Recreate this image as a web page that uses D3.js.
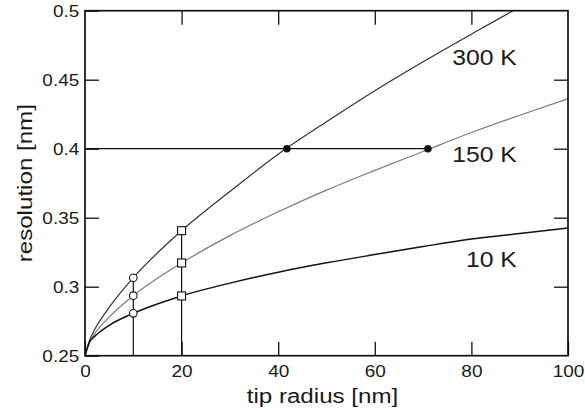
<!DOCTYPE html>
<html>
<head>
<meta charset="utf-8">
<script src="https://cdn.jsdelivr.net/npm/d3@7"></script>
<style>
  html, body { margin: 0; padding: 0; background: #fff; }
  svg text { font-family: "Liberation Sans", Arial, Helvetica, sans-serif; fill: #1a1a1a; }
</style>
</head>
<body>
<svg id="chart" width="585" height="412"></svg>
<script>
// Tip radius samples [nm]
const radius = [0, 1, 2, 5, 10, 20, 30, 40, 50, 60, 70, 80, 90, 100];
// Resolution [nm] at each radius, one series per temperature
const res300 = [0.25, 0.2618, 0.269, 0.285, 0.3065, 0.3406, 0.369, 0.396, 0.4195, 0.442, 0.463, 0.483, 0.5026, 0.521];
const res150 = [0.25, 0.2602, 0.266, 0.278, 0.2935, 0.3172, 0.337, 0.3543, 0.370, 0.3843, 0.398, 0.4117, 0.4242, 0.4362];
const res10  = [0.25, 0.2602, 0.264, 0.272, 0.2807, 0.2933, 0.3026, 0.3105, 0.3173, 0.3233, 0.3291, 0.3345, 0.3386, 0.3425];

const seriesNames = ["300 K", "150 K", "10 K"];
const seriesValues = [res300, res150, res10];
const seriesColors = ["#333333", "#7a7a7a", "#111111"];
const seriesWidths = [1.2, 1.2, 1.45];
// label anchor (right end, baseline) in data units
const labelR = [89.4, 89.4, 89.4];
const labelRes = [0.4607, 0.3904, 0.3143];

// marked points: open circles at 10 nm, open squares at 20 nm
const circleR = 10;
const circleRes = [0.3065, 0.2935, 0.2807];
const squareR = 20;
const squareRes = [0.3406, 0.3172, 0.2933];
// radius where each curve reaches 0.4 nm (filled dots)
const targetRes = 0.4;
const targetR = [41.8, 71.0];

const xTicks = [0, 20, 40, 60, 80, 100];
const yTicks = [0.25, 0.3, 0.35, 0.4, 0.45, 0.5];

const W = 585, H = 412;
const margin = { top: 10.7, right: 17, bottom: 56.3, left: 85 };
const iw = W - margin.left - margin.right;
const ih = H - margin.top - margin.bottom;
const SX = 1.15; // horizontal text stretch

const svg = d3.select("#chart");
const g = svg.append("g").attr("transform", `translate(${margin.left},${margin.top})`);

const x = d3.scaleLinear().domain([0, 100]).range([0, iw]);
const y = d3.scaleLinear().domain([0.25, 0.5]).range([ih, 0]);

g.append("defs").append("clipPath").attr("id", "plotClip")
  .append("rect").attr("width", iw).attr("height", ih);

const plot = g.append("g").attr("clip-path", "url(#plotClip)");

// vertical guides at 10 nm and 20 nm
plot.append("line")
  .attr("x1", x(circleR)).attr("x2", x(circleR))
  .attr("y1", y(0.25)).attr("y2", y(d3.max(circleRes)))
  .attr("stroke", "#111").attr("stroke-width", 1.2);
plot.append("line")
  .attr("x1", x(squareR)).attr("x2", x(squareR))
  .attr("y1", y(0.25)).attr("y2", y(d3.max(squareRes)))
  .attr("stroke", "#111").attr("stroke-width", 1.2);
// horizontal guide at 0.4 nm
plot.append("line")
  .attr("x1", x(0)).attr("x2", x(d3.max(targetR)))
  .attr("y1", y(targetRes)).attr("y2", y(targetRes))
  .attr("stroke", "#111").attr("stroke-width", 1.2);

const line = d3.line()
  .x((d, i) => x(radius[i]))
  .y(d => y(d))
  .curve(d3.curveMonotoneX);

seriesValues.forEach((vals, k) => {
  plot.append("path")
    .datum(vals)
    .attr("d", line)
    .attr("fill", "none")
    .attr("stroke", seriesColors[k])
    .attr("stroke-width", seriesWidths[k]);
});

// markers
g.selectAll("circle.open").data(circleRes).enter().append("circle")
  .attr("class", "open")
  .attr("cx", x(circleR)).attr("cy", d => y(d)).attr("r", 3.8)
  .attr("fill", "#fff").attr("stroke", "#111").attr("stroke-width", 1.1);
g.selectAll("rect.open").data(squareRes).enter().append("rect")
  .attr("class", "open")
  .attr("x", x(squareR) - 4).attr("y", d => y(d) - 4)
  .attr("width", 8).attr("height", 8)
  .attr("fill", "#fff").attr("stroke", "#111").attr("stroke-width", 1.1);
g.selectAll("circle.filled").data(targetR).enter().append("circle")
  .attr("class", "filled")
  .attr("cx", d => x(d)).attr("cy", y(targetRes)).attr("r", 3.8)
  .attr("fill", "#111");

// series labels
seriesNames.forEach((name, k) => {
  const px = x(labelR[k]), py = y(labelRes[k]);
  g.append("text")
    .attr("transform", `translate(${px},${py}) scale(${SX},1)`)
    .attr("text-anchor", "end")
    .attr("font-size", 21.5)
    .text(name);
});

// axes with inward ticks, mirrored on top and right
const tickLen = 14;
const xAxis = g.append("g").attr("transform", `translate(0,${ih})`)
  .call(d3.axisBottom(x).tickValues(xTicks).tickSize(-tickLen).tickPadding(10).tickFormat(d3.format("d")));
const yAxis = g.append("g")
  .call(d3.axisLeft(y).tickValues(yTicks).tickSize(-tickLen).tickPadding(5).tickFormat(d => d3.format("")(+d.toFixed(2))));
const xTop = g.append("g")
  .call(d3.axisTop(x).tickValues(xTicks.slice(1, -1)).tickSize(-tickLen).tickFormat(""));
const yRight = g.append("g").attr("transform", `translate(${iw},0)`)
  .call(d3.axisRight(y).tickValues(yTicks.slice(1, -1)).tickSize(-tickLen).tickFormat(""));

[xAxis, yAxis, xTop, yRight].forEach(a => {
  a.select(".domain").remove();
  a.selectAll(".tick line").attr("stroke", "#111").attr("stroke-width", 1.3);
});
xAxis.selectAll(".tick text")
  .attr("font-size", 16.5).attr("fill", "#1a1a1a")
  .attr("transform", `scale(${SX},1)`);
yAxis.selectAll(".tick text")
  .attr("font-size", 16.5).attr("fill", "#1a1a1a")
  .attr("dy", "0.36em")
  .attr("transform", `scale(${SX},1)`);

// frame
g.append("rect")
  .attr("width", iw).attr("height", ih)
  .attr("fill", "none").attr("stroke", "#111").attr("stroke-width", 1.7);

// axis titles
g.append("text")
  .attr("transform", `translate(${iw / 2 - 4},${ih + 47}) scale(${SX},1)`)
  .attr("text-anchor", "middle")
  .attr("font-size", 21)
  .text("tip radius [nm]");
g.append("text")
  .attr("transform", `translate(${-margin.left + 32},${ih / 2}) rotate(-90) scale(${SX},1)`)
  .attr("text-anchor", "middle")
  .attr("font-size", 21)
  .text("resolution [nm]");
</script>
</body>
</html>
